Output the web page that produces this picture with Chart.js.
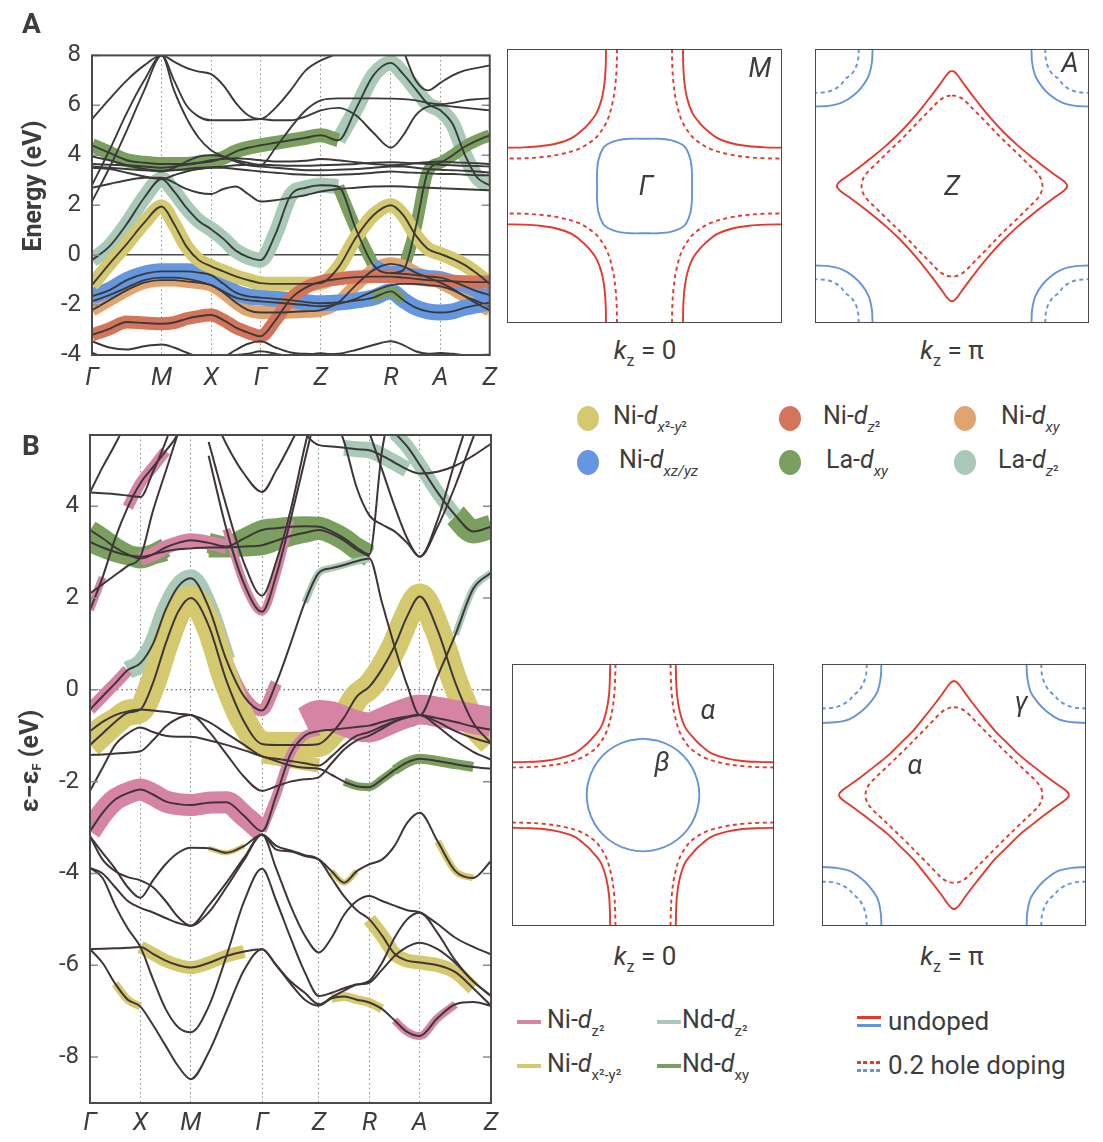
<!DOCTYPE html>
<html>
<head>
<meta charset="utf-8">
<script src="https://cdn.jsdelivr.net/npm/chart.js@4.4.1/dist/chart.umd.min.js"></script>
<style>
  body { margin: 0; background: #fff; overflow: hidden; }
  #wrap { position: relative; width: 1103px; height: 1142px; }
  canvas { position: absolute; }
  .t { position: absolute; font-family: Roboto, "Open Sans", sans-serif; color: #3d3d3d; white-space: nowrap; line-height: 1; }
  .c { transform: translate(-50%, -50%); }
  .lg { font-size: 25px; line-height: 30px; height: 30px; }
  .lg sub { font-size: 15px; vertical-align: -0.55em; line-height: 0; }
  .kz { font-size: 26px; }
  .kz sub { font-size: 16px; vertical-align: -0.45em; line-height: 0; }
  .dot { position: absolute; width: 22px; height: 25px; border-radius: 50%; }
  .bar { position: absolute; height: 4px; }
</style>
</head>
<body>
<div id="wrap">
  <canvas id="cA" width="506" height="372" style="left:0;top:30px"></canvas>
  <canvas id="cB" width="505" height="737" style="left:0;top:405px"></canvas>
  <canvas id="fA0" width="275" height="274" style="left:507px;top:49px"></canvas>
  <canvas id="fApi" width="274" height="274" style="left:815px;top:49px"></canvas>
  <canvas id="fB0" width="262" height="262" style="left:512px;top:664px"></canvas>
  <canvas id="fBpi" width="264" height="262" style="left:822px;top:664px"></canvas>

  <div class="t" style="left:22px;top:10px;font-size:28px;font-weight:bold">A</div>
  <div class="t" style="left:22px;top:432px;font-size:28px;font-weight:bold">B</div>
  <div class="t" style="left:32px;top:186px;font-size:25px;font-weight:bold;transform:translate(-50%,-50%) rotate(-90deg)">Energy (eV)</div>
  <div class="t" style="left:30px;top:761px;font-size:25px;font-weight:bold;transform:translate(-50%,-50%) rotate(-90deg)">ε−ε<sub style="font-size:13px;vertical-align:-0.3em">F</sub> (eV)</div>

  <div class="t c" style="left:760px;top:68px;font-size:27px;font-style:italic">M</div>
  <div class="t c" style="left:646px;top:186px;font-size:27px;font-style:italic">Γ</div>
  <div class="t c" style="left:1070px;top:63px;font-size:27px;font-style:italic">A</div>
  <div class="t c" style="left:952px;top:186px;font-size:27px;font-style:italic">Z</div>
  <div class="t c" style="left:708px;top:710px;font-size:27px;font-style:italic">α</div>
  <div class="t c" style="left:662px;top:762px;font-size:27px;font-style:italic">β</div>
  <div class="t c" style="left:1021px;top:702px;font-size:27px;font-style:italic">γ</div>
  <div class="t c" style="left:915px;top:765px;font-size:27px;font-style:italic">α</div>

  <div class="t c kz" style="left:645px;top:350px"><i>k</i><sub>z</sub> = 0</div>
  <div class="t c kz" style="left:952px;top:350px"><i>k</i><sub>z</sub> = π</div>
  <div class="t c kz" style="left:645px;top:956px"><i>k</i><sub>z</sub> = 0</div>
  <div class="t c kz" style="left:952px;top:956px"><i>k</i><sub>z</sub> = π</div>

  <div id="legA"></div>
  <div id="legB"></div>
</div>
<script>
Chart.defaults.font.family = 'Roboto, "Open Sans", sans-serif';
const N = null;

// ---------- panel A: k-path, ticks ----------
const kA = [0, 0.3525, 0.705, 1.0575, 1.41, 1.66, 1.91, 2.16, 2.41, 2.66, 2.91, 3.16, 3.41,
  3.715, 4.02, 4.325, 4.63, 4.985, 5.34, 5.695, 6.05, 6.3, 6.55, 6.8, 7.05, 7.3, 7.55, 7.8, 8.05];
const kTicksA = [0, 1.41, 2.41, 3.41, 4.63, 6.05, 7.05, 8.05];
const kLabelsA = ['Γ', 'M', 'X', 'Γ', 'Z', 'R', 'A', 'Z'];
const eTicksA = [-4, -2, 0, 2, 4, 6, 8];

// bands of panel A (eV), one value per kA point
const aRed = [-3.2,-2.95,-2.68,-2.72,-2.75,-2.7,-2.55,-2.45,-2.4,-2.6,-2.9,-3.1,-3.25,-2.6,-1.75,-1.3,-1.07,-0.95,-0.88,-0.86,-0.86,-0.9,-0.95,-1.0,-1.02,-1.05,-1.07,-1.08,-1.08];
const aOrange = [-2.2,-1.8,-1.4,-1.1,-1.0,-1.0,-1.05,-1.1,-1.2,-1.5,-1.9,-2.2,-2.3,-2.3,-2.28,-2.25,-2.2,-1.9,-1.2,-0.6,-0.35,-0.45,-0.7,-0.9,-1.1,-1.35,-1.65,-1.95,-2.2];
const aBlue = [-1.65,-1.4,-1.0,-0.75,-0.65,-0.65,-0.65,-0.7,-0.8,-1.15,-1.5,-1.65,-1.7,-1.75,-1.8,-1.88,-1.93,-1.9,-1.82,-1.7,-1.45,-1.8,-2.1,-2.25,-2.3,-2.25,-2.1,-2.0,-1.9];
const aBlueR = [N,N,N,N,N, N,N,N,N,N, N,N,N,N,N, N,N,N,N,N, -0.72,-0.75,-0.8,-0.85,-0.9,-1.05,-1.25,-1.45,-1.6];
const aBelowBlue = [-1.85,-1.6,-1.3,-1.0,-0.9,-0.9,-0.95,-1.05,-1.2,-1.45,-1.7,-1.8,-1.85,-1.9,-1.95,-2.0,-2.05,-1.95,-1.75,-1.45,-1.2,-1.15,-1.15,-1.2,-1.25,-1.4,-1.65,-1.85,-2.05];
const aYellow = [-1.2,-0.35,0.45,1.3,1.95,1.25,0.35,-0.2,-0.45,-0.65,-0.85,-1.0,-1.12,-1.15,-1.15,-1.15,-1.12,-0.5,0.7,1.6,2.0,1.6,0.8,0.25,0.05,-0.15,-0.4,-0.75,-1.15];
const aMixed = [-0.2,0.35,1.25,2.3,3.05,2.55,1.9,1.37,1.04,0.65,0.18,-0.08,-0.2,0.85,2.4,2.7,2.8,2.75,1.05,-0.4,-0.72,-0.6,1.1,3.35,3.7,4.0,4.35,4.6,4.8];
const aUpper = [4.4,4.1,3.8,3.7,3.65,3.65,3.65,3.7,3.75,3.9,4.15,4.3,4.4,4.5,4.6,4.7,4.8,4.6,5.85,7.2,7.7,7.25,6.65,6.05,5.8,5.25,4.0,3.1,2.8];
const aTop1 = [5.45,6.25,7.0,7.6,8.0,7.75,7.5,7.35,7.25,6.8,6.1,5.6,5.45,5.9,6.6,7.4,7.8,8.1,8.6,N,N,N,N,N,N,N,N,N,N];
const aTop2 = [N,N,N,N,N, N,N,N,N,N, N,N,N,N,N, N,N,N,N,N, N,8.2,7.0,6.6,6.9,7.2,7.4,7.5,7.6];
const aMid1 = [3.95,3.8,3.6,3.45,3.35,3.5,3.75,3.95,4.0,3.95,3.8,3.7,3.6,4.3,5.1,5.8,6.2,6.28,6.28,6.28,6.27,6.25,6.2,6.1,6.05,6.1,6.2,6.25,6.28];
const aMid2 = [2.15,3.5,5.0,6.6,8.0,7.0,6.0,5.55,5.4,5.4,5.4,5.42,5.45,5.4,5.4,5.55,5.8,5.9,5.6,4.9,4.3,4.8,5.6,5.95,6.0,5.95,5.9,5.85,5.8];
const aMid3 = [2.8,4.2,5.7,7.0,8.0,6.6,5.5,4.7,4.2,3.95,3.75,3.6,3.55,3.5,3.45,3.4,3.4,3.42,3.45,3.5,3.55,3.55,3.5,3.45,3.42,3.4,3.38,3.35,3.3];
const aFlat1 = [3.55,3.5,3.45,3.4,3.38,3.4,3.45,3.5,3.52,3.55,3.6,3.62,3.62,3.6,3.58,3.58,3.6,3.62,3.65,3.7,3.72,3.7,3.68,3.65,3.62,3.6,3.58,3.57,3.55];
const aFlat2 = [3.65,3.62,3.6,3.55,3.5,3.55,3.62,3.7,3.8,3.85,3.88,3.85,3.8,3.75,3.75,3.78,3.85,3.8,3.72,3.65,3.6,3.62,3.68,3.72,3.75,3.72,3.7,3.68,3.65];
const aFlat3 = [3.5,3.45,3.3,3.15,3.05,3.2,3.35,3.45,3.5,3.5,3.45,3.4,3.35,3.3,3.25,3.22,3.2,3.22,3.25,3.3,3.35,3.32,3.3,3.28,3.25,3.25,3.22,3.2,3.2];
const aLow2 = [2.7,2.85,3.0,3.1,3.1,2.9,2.65,2.5,2.45,2.65,2.75,2.45,2.15,2.2,2.3,2.4,2.55,2.65,2.7,2.75,2.76,2.75,2.72,2.7,2.68,2.66,2.64,2.62,2.6];
const aDeep1 = [-3.45,-3.7,-3.78,-3.65,-3.58,-3.7,-3.9,-4.1,-4.3,-4.1,-3.8,-3.55,-3.45,-3.7,-3.9,-3.95,-3.97,-3.95,-3.8,-3.6,-3.45,-3.6,-3.85,-3.95,-3.92,-3.95,-4.0,-4.02,-3.98];
const aDeep2 = [-3.9,-4.2,-4.5,-4.5,-4.5,-4.5,-4.4,-4.3,-4.2,-4.1,-4.0,-3.95,-3.85,-3.95,-4.05,-4.0,-3.93,-4.05,-4.2,-4.3,-4.3,-4.2,-4.1,-4.0,-3.95,-4.0,-4.1,-4.1,-4.0];

// ---------- panel B: k-path, ticks ----------
const kB = [0, 0.25, 0.5, 0.75, 1, 1.25, 1.5, 1.75, 2, 2.354, 2.707, 3.061, 3.414,
  3.697, 3.979, 4.262, 4.544, 4.794, 5.044, 5.294, 5.544, 5.794, 6.044, 6.294, 6.544, 6.898, 7.251, 7.605, 7.958];
const kTicksB = [0, 1, 2, 3.414, 4.544, 5.544, 6.544, 7.958];
const kLabelsB = ['Γ', 'X', 'M', 'Γ', 'Z', 'R', 'A', 'Z'];
const eTicksB = [-8, -6, -4, -2, 0, 2, 4];

const bL1 = [-3.08,-2.68,-2.39,-2.25,-2.17,-2.28,-2.43,-2.49,-2.51,-2.46,-2.45,-2.75,-3.08,-2.3,-1.4,-1.0,-0.9,-0.87,-0.84,-0.81,-0.78,-0.7,-0.63,-0.58,-0.55,-0.62,-0.7,-0.8,-0.87];
const bL2 = [-1.2,-0.95,-0.7,-0.5,-0.43,0.15,1.0,1.7,2.0,1.4,0.2,-0.7,-1.18,-1.2,-1.2,-1.2,-1.18,-0.95,-0.6,-0.15,0.07,0.45,0.95,1.6,2.03,1.3,0.15,-0.72,-1.16];
const bL3 = [-0.43,-0.14,0.14,0.43,0.58,1.0,1.74,2.25,2.43,1.8,0.65,-0.15,-0.45,0.15,1.0,1.9,2.55,2.65,2.72,2.8,2.86,1.9,0.95,0.1,-0.55,0.3,1.2,2.2,2.55];
const bL4 = [-0.9,-0.7,-0.55,-0.47,-0.43,-0.45,-0.48,-0.52,-0.55,-0.7,-0.95,-1.2,-1.45,-1.5,-1.55,-1.6,-1.65,-1.45,-1.2,-1.0,-0.92,-0.8,-0.68,-0.6,-0.55,-0.7,-0.9,-1.05,-1.16];
const bL5 = [-1.42,-1.41,-1.39,-1.37,-1.34,-1.1,-0.8,-0.62,-0.55,-0.9,-1.4,-1.9,-2.2,-2.1,-2.0,-1.95,-1.9,-1.6,-1.3,-1.1,-1.0,-0.85,-0.7,-0.6,-0.55,-0.8,-1.1,-1.35,-1.52];
const bL6 = [-2.2,-1.7,-1.2,-0.95,-0.82,-0.92,-1.0,-1.02,-1.02,-1.1,-1.2,-1.32,-1.45,-1.55,-1.65,-1.7,-1.72,-1.85,-2.0,-2.1,-2.12,-1.95,-1.75,-1.58,-1.5,-1.55,-1.62,-1.68,-1.72];
const bU1 = [4.3,4.28,4.26,4.23,4.2,4.75,5.4,6.2,7.0, N,N,N,N,N, N,N,N,N,N, N,N,N,N,N, N,N,N,N,N];
const bU2 = [4.3,4.85,5.35,5.9,6.6, N,N,N,N,N, N,N,N,N,N, N,N,N,N,N, N,N,N,N,N, N,N,N,N];
const bU3 = [2.1,2.3,2.5,2.7,2.9,3.9,4.75,5.6,6.5, N,N,N,N,N, N,N,N,N,N, N,N,N,N,N, N,N,N,N,N];
const bU4 = [1.74,2.45,3.3,3.98,4.5,4.85,5.2,5.6,6.5, N,N,N,N,N, N,N,N,N,N, N,N,N,N,N, N,N,N,N,N];
const bG1 = [3.48,3.3,3.1,2.95,2.86,2.95,3.1,3.2,3.26,3.2,3.12,3.3,3.48,3.52,3.55,3.56,3.55,3.45,3.3,3.1,2.95,5.2,6.5, N,N,N,N,N,N];
const bG2 = [3.22,3.1,3.0,2.93,2.9,2.95,3.02,3.06,3.08,3.1,3.1,3.12,3.15,3.25,3.35,3.42,3.48,3.4,3.25,3.05,2.9, N,N,N,N,N,N,N,N];
const bG3 = [N,N,N,N,N, N,N,N,N,N, N,N,N,N,N, N,N,N,N,N, N,N, 5.6,5.3,4.9,4.3,3.8,3.45,3.55];
const bP1 = [N,N,N,N,N, N,N,N,N,N, N,N,N,N,N, N, 6.8,6.1,5.4,4.4,3.8,3.6,3.45,3.2,2.9,3.55,4.45,5.5,6.5];
const bP2 = [N,N,N,N,N, N,N,N,N,N, N,N,N,N,N, N,N,N,N, 6.3,5.6,4.8,4.0,3.3,2.9,3.7,5.0,6.2, N];
const bU5 = [N,N,N,N,N, N,N,N,N, 6.2,5.35,4.7,4.31,4.78,5.36,6.0,6.7, N,N,N,N,N, N,N,N,N,N,N,N];
const bU6 = [N,N,N,N,N, N,N,N,N, 5.4,4.0,2.75,2.05,2.8,3.9,5.3,6.6, N,N,N,N,N, N,N,N,N,N,N,N];
const bU7 = [N,N,N,N,N, N,N,N,N, 5.1,3.5,2.3,1.7,2.5,3.7,5.0,6.3, N,N,N,N,N, N,N,N,N,N,N,N];
const bU8 = [N,N,N,N,N, N,N,N,N,N, N,N,N,N, 6.2,5.6,5.33,5.3,5.27,5.24,5.22,5.1,4.95,4.8,4.71,4.75,4.88,5.1,5.36];
const bD1 = [-3.19,-3.55,-3.9,-4.3,-4.53,-4.15,-3.8,-3.55,-3.44,-3.45,-3.55,-3.4,-3.15,-3.48,-3.52,-3.62,-3.7,-3.95,-4.2,-3.95,-3.8,-3.7,-3.4,-2.9,-2.68,-3.3,-3.95,-4.1,-3.73];
const bD2 = [-3.19,-3.7,-3.95,-4.08,-4.15,-4.3,-4.6,-4.95,-5.14,-4.85,-4.3,-3.7,-3.15,-3.4,-3.5,-3.6,-3.7,-4.1,-4.5,-4.8,-5.0,-5.35,-5.75,-5.9,-5.94,-6.0,-6.15,-6.5,-6.88];
const bD3 = [-3.88,-4.0,-4.3,-4.6,-4.75,-4.85,-4.97,-5.08,-5.14,-4.7,-4.2,-3.65,-3.15,-3.9,-4.7,-5.35,-5.72,-5.4,-4.9,-4.6,-4.49,-4.6,-4.7,-4.8,-4.85,-5.1,-5.4,-5.6,-5.76];
const bD4 = [-3.88,-4.1,-4.7,-5.2,-5.6,-6.3,-6.95,-7.35,-7.46,-6.9,-5.8,-4.6,-3.9,-4.6,-5.4,-6.15,-6.67,-6.6,-6.5,-6.42,-6.38,-6.1,-5.8,-5.6,-5.51,-5.65,-5.95,-6.35,-6.67];
const bD5 = [-5.65,-5.64,-5.63,-5.62,-5.6,-5.75,-5.9,-6.0,-6.05,-5.95,-5.8,-5.7,-5.65,-6.0,-6.4,-6.75,-6.88,-6.72,-6.68,-6.75,-6.81,-6.95,-7.2,-7.45,-7.54,-7.15,-6.85,-6.8,-6.88];
const bD6 = [-5.65,-5.95,-6.4,-6.75,-6.9,-7.3,-7.75,-8.2,-8.48,-7.9,-7.0,-6.1,-5.65,-6.0,-6.35,-6.6,-6.85,-6.7,-6.55,-6.42,-6.34,-5.95,-5.4,-5.0,-4.85,-5.3,-5.9,-6.35,-6.67];
const bPinkTop = [N,N,N,N,N, N,N,N,N,N, N,N,N,N,N, -0.7,-0.55,-0.58,-0.68,-0.78,-0.82,-0.72,-0.6,-0.5,-0.43,-0.48,-0.55,-0.63,-0.7];

// ---------- Fermi surfaces: one quadrant each, (kx, ky) in units of the zone half-width ----------
const fsA0RedSolid = [[0.28,1],[0.282,0.88],[0.29,0.76],[0.31,0.64],[0.35,0.53],[0.41,0.45],[0.45,0.41],[0.53,0.35],[0.64,0.31],[0.76,0.29],[0.88,0.282],[1,0.28]];
const fsA0RedDash = [[0.2,1],[0.202,0.88],[0.21,0.76],[0.23,0.62],[0.27,0.48],[0.33,0.38],[0.38,0.33],[0.48,0.27],[0.62,0.23],[0.76,0.21],[0.88,0.202],[1,0.2]];
const fsA0Blue = [[0,0.345],[0.1,0.345],[0.19,0.335],[0.27,0.305],[0.305,0.27],[0.335,0.19],[0.345,0.1],[0.345,0]];
const fsApiRedSolid = [[0,0.84],[0.015,0.835],[0.04,0.81],[0.09,0.74],[0.15,0.66],[0.22,0.57],[0.3,0.475],[0.385,0.385],[0.475,0.3],[0.57,0.22],[0.66,0.15],[0.74,0.09],[0.81,0.04],[0.835,0.015],[0.84,0]];
const fsApiRedDash = [[0,0.66],[0.03,0.657],[0.07,0.64],[0.11,0.608],[0.16,0.556],[0.24,0.475],[0.355,0.355],[0.475,0.24],[0.556,0.16],[0.608,0.11],[0.64,0.07],[0.657,0.03],[0.66,0]];
const fsApiBlueSolid = [[0.58,1],[0.585,0.9],[0.61,0.8],[0.66,0.72],[0.72,0.66],[0.8,0.61],[0.9,0.585],[1,0.58]];
const fsApiBlueDash = [[0.68,1],[0.69,0.9],[0.73,0.82],[0.78,0.78],[0.82,0.73],[0.9,0.69],[1,0.68]];
const fsB0RedSolid = [[0.25,1],[0.253,0.88],[0.26,0.76],[0.28,0.64],[0.32,0.52],[0.39,0.43],[0.43,0.39],[0.52,0.32],[0.64,0.28],[0.76,0.26],[0.88,0.253],[1,0.25]];
const fsB0RedDash = [[0.21,1],[0.213,0.88],[0.22,0.76],[0.24,0.62],[0.28,0.48],[0.34,0.38],[0.38,0.34],[0.48,0.28],[0.62,0.24],[0.76,0.22],[0.88,0.213],[1,0.21]];
const fsB0Blue = [[0,0.43],[0.11,0.415],[0.215,0.372],[0.304,0.304],[0.372,0.215],[0.415,0.11],[0.43,0]];
const fsBpiRedSolid = [[0,0.87],[0.016,0.865],[0.042,0.838],[0.093,0.765],[0.155,0.683],[0.228,0.59],[0.31,0.49],[0.4,0.4],[0.49,0.31],[0.59,0.228],[0.683,0.155],[0.765,0.093],[0.838,0.042],[0.865,0.016],[0.87,0]];
const fsBpiRedDash = [[0,0.67],[0.03,0.667],[0.07,0.65],[0.11,0.618],[0.16,0.566],[0.24,0.483],[0.36,0.36],[0.483,0.24],[0.566,0.16],[0.618,0.11],[0.65,0.07],[0.667,0.03],[0.67,0]];
const fsBpiBlueSolid = [[0.55,1],[0.555,0.9],[0.58,0.79],[0.64,0.7],[0.7,0.64],[0.79,0.58],[0.9,0.555],[1,0.55]];
const fsBpiBlueDash = [[0.66,1],[0.67,0.9],[0.71,0.81],[0.76,0.76],[0.81,0.71],[0.9,0.67],[1,0.66]];

// ---------- colours ----------
const cYellow = '#d5c970', cRed = '#d4755b', cOrange = '#e2a46f', cBlue = '#6596e0',
      cGreen = '#7a9f5e', cTeal = '#a9c9b9', cPink = '#d684a4';
const fsRed = '#e4392d', fsBlue = '#6494dc';

// fat (orbital weight) strokes: [band, colour, first index, last index, width], painter order
const fatA = [
  [aMixed, cTeal, 0, 17, 15], [aUpper, cTeal, 17, 28, 15],
  [aUpper, cGreen, 0, 17, 14], [aMixed, cGreen, 17, 19, 12], [aMixed, cGreen, 21, 28, 12],
  [aOrange, cOrange, 0, 28, 13],
  [aBlue, cBlue, 0, 28, 16], [aMixed, cBlue, 19, 21, 13], [aBlueR, cBlue, 20, 28, 13],
  [aBlue, cGreen, 19, 21, 10],
  [aYellow, cYellow, 0, 28, 14],
  [aRed, cRed, 0, 28, 13]
];
const linesA = [aRed, aOrange, aBlue, aBlueR, aBelowBlue, aYellow, aMixed, aUpper, aTop1, aTop2,
  aMid1, aMid2, aMid3, aFlat1, aFlat2, aFlat3, aLow2, aDeep1, aDeep2];

const fatB = [
  [bG1, cGreen, 0, 6, 20], [bG2, cGreen, 0, 6, 20], [bG1, cGreen, 9, 20, 20], [bG2, cGreen, 9, 20, 20],
  [bG3, cGreen, 26, 28, 24],
  [bL3, cTeal, 3, 10, 18], [bU8, cTeal, 18, 23, 16], [bG3, cTeal, 22, 26, 14],
  [bL3, cTeal, 15, 20, 7], [bL3, cTeal, 26, 28, 7],
  [bG1, cPink, 4, 10, 14], [bU4, cPink, 0, 1, 8], [bU4, cPink, 3, 6, 11], [bU7, cPink, 10, 14, 8],
  [bL3, cPink, 0, 3, 12], [bL3, cPink, 9, 13, 12],
  [bL2, cYellow, 0, 28, 26], [bL4, cYellow, 0, 3, 14], [bL4, cYellow, 12, 16, 14],
  [bL1, cPink, 0, 12, 22], [bL1, cPink, 12, 16, 9], [bPinkTop, cPink, 15, 28, 30],
  [bD5, cYellow, 4, 11, 13], [bD6, cYellow, 2, 4, 8], [bD2, cYellow, 20, 27, 14],
  [bD5, cYellow, 17, 21, 9], [bD1, cYellow, 17, 19, 6], [bD1, cYellow, 25, 27, 7], [bD1, cYellow, 9, 11, 5],
  [bD5, cPink, 22, 26, 8],
  [bL6, cGreen, 18, 22, 8], [bL6, cGreen, 22, 27, 10]
];
const linesB = [bL1, bL2, bL3, bL4, bL5, bL6, bU1, bU2, bU3, bU4, bG1, bG2, bG3, bP1, bP2,
  bU5, bU6, bU7, bU8, bD1, bD2, bD3, bD4, bD5, bD6];

// ---------- drawing helpers ----------
const framePlugin = {
  id: 'frame',
  afterDraw(chart, args, opts) {
    const { ctx, chartArea: a } = chart;
    ctx.save();
    if (opts.ticks) {
      const y = chart.scales.y;
      ctx.strokeStyle = '#8a8a8a';
      ctx.lineWidth = 1.5;
      y.ticks.forEach(t => {
        const py = y.getPixelForValue(t.value);
        ctx.beginPath();
        ctx.moveTo(a.left, py); ctx.lineTo(a.left + 8, py);
        ctx.moveTo(a.right, py); ctx.lineTo(a.right - 8, py);
        ctx.stroke();
      });
    }
    ctx.strokeStyle = opts.color || '#474747';
    ctx.lineWidth = opts.width || 2;
    ctx.strokeRect(a.left, a.top, a.right - a.left, a.bottom - a.top);
    ctx.restore();
  }
};

function bandChart(id, grid, kTicks, kLabels, eTicks, ymin, ymax, fats, lines, st) {
  const common = { pointRadius: 0, pointHoverRadius: 0, cubicInterpolationMode: 'monotone',
                   clip: 0, fill: false, spanGaps: false, borderJoinStyle: 'round' };
  const ds = [];
  fats.forEach(([band, col, a, b, w]) => ds.push(Object.assign({
    data: grid.map((k, i) => ({ x: k, y: (i >= a && i <= b) ? band[i] : null })),
    borderColor: col, borderWidth: w }, common)));
  lines.forEach(band => ds.push(Object.assign({
    data: grid.map((k, i) => ({ x: k, y: band[i] })),
    borderColor: st.lineColor, borderWidth: st.lineWidth }, common)));
  ds.reverse(); // first dataset is painted last

  return new Chart(document.getElementById(id), {
    type: 'line',
    data: { datasets: ds },
    options: {
      responsive: false, animation: false, events: [],
      layout: { padding: { top: st.padTop, right: st.padRight, left: 0, bottom: 0 } },
      plugins: { legend: { display: false }, tooltip: { enabled: false },
                 frame: { ticks: true, color: '#4a4a4a', width: 2 } },
      scales: {
        x: {
          type: 'linear', min: grid[0], max: grid[grid.length - 1],
          afterBuildTicks: s => { s.ticks = kTicks.map(v => ({ value: v })); },
          afterFit: s => { s.height = st.xh; },
          ticks: { callback: (v, i) => kLabels[i], autoSkip: false, maxRotation: 0,
                   font: { size: 25, style: 'italic' }, color: '#3d3d3d', padding: st.xpad },
          grid: { color: '#8c8c8c', lineWidth: 1, drawTicks: false },
          border: { display: false, dash: [1.5, 3] }
        },
        y: {
          min: ymin, max: ymax,
          afterBuildTicks: s => { s.ticks = eTicks.map(v => ({ value: v })); },
          afterFit: s => { s.width = st.yw; },
          ticks: { callback: v => String(v), font: { size: 24 }, color: '#3d3d3d', padding: 11 },
          grid: { color: c => (c.tick && c.tick.value === 0) ? st.zeroColor : 'rgba(0,0,0,0)',
                  lineWidth: st.zeroWidth, drawTicks: false },
          border: { display: false, dash: st.zeroDash }
        }
      }
    },
    plugins: [framePlugin]
  });
}

// whole closed loop from one quadrant running from (0,b) to (a,0); shared end points kept once
function loop(q) {
  const q4 = q.slice().reverse().map(([x, y]) => [x, -y]).slice(1);
  const q3 = q.map(([x, y]) => [-x, -y]).slice(1);
  const q2 = q.slice().reverse().map(([x, y]) => [-x, y]).slice(1);
  return q.concat(q4, q3, q2);
}
// the same open arc placed in all four corners
function corners(q) {
  return [[1, 1], [-1, 1], [-1, -1], [1, -1]].map(([sx, sy]) => q.map(([x, y]) => [sx * x, sy * y]));
}

function fsChart(id, curves) {
  const ds = curves.map(c => ({
    data: c.pts.map(([x, y]) => ({ x, y })), showLine: true,
    borderColor: c.color, borderWidth: 1.9, borderDash: c.dash ? [4, 3.5] : [],
    pointRadius: 0, pointHoverRadius: 0, tension: 0.35, clip: 0, fill: false
  }));
  return new Chart(document.getElementById(id), {
    type: 'scatter',
    data: { datasets: ds },
    options: {
      responsive: false, animation: false, events: [],
      layout: { padding: 0 },
      plugins: { legend: { display: false }, tooltip: { enabled: false }, frame: { color: '#4a4a4a', width: 2 } },
      scales: { x: { display: false, min: -1, max: 1 }, y: { display: false, min: -1, max: 1 } }
    },
    plugins: [framePlugin]
  });
}
function fsCurves(redSolid, redDash, blueSolid, blueDash, redLoop, blueLoop) {
  const out = [];
  (redLoop ? [loop(redSolid)] : corners(redSolid)).forEach(p => out.push({ pts: p, color: fsRed }));
  (redLoop ? [loop(redDash)] : corners(redDash)).forEach(p => out.push({ pts: p, color: fsRed, dash: true }));
  (blueLoop ? [loop(blueSolid)] : corners(blueSolid)).forEach(p => out.push({ pts: p, color: fsBlue }));
  if (blueDash) corners(blueDash).forEach(p => out.push({ pts: p, color: fsBlue, dash: true }));
  return out;
}

bandChart('cA', kA, kTicksA, kLabelsA, eTicksA, -4, 8, fatA, linesA,
  { lineColor: '#3a3a3a', lineWidth: 1.9, padTop: 21, padRight: 11, yw: 92, xh: 47, xpad: 9,
    zeroColor: '#4a4a4a', zeroWidth: 1.6, zeroDash: [] });
bandChart('cB', kB, kTicksB, kLabelsB, eTicksB, -9, 5.55, fatB, linesB,
  { lineColor: '#3f3539', lineWidth: 2, padTop: 30, padRight: 14, yw: 90, xh: 39, xpad: 6,
    zeroColor: '#6a6a6a', zeroWidth: 1.2, zeroDash: [1.5, 3] });

fsChart('fA0', fsCurves(fsA0RedSolid, fsA0RedDash, fsA0Blue, null, false, true));
fsChart('fApi', fsCurves(fsApiRedSolid, fsApiRedDash, fsApiBlueSolid, fsApiBlueDash, true, false));
fsChart('fB0', fsCurves(fsB0RedSolid, fsB0RedDash, fsB0Blue, null, false, true));
fsChart('fBpi', fsCurves(fsBpiRedSolid, fsBpiRedDash, fsBpiBlueSolid, fsBpiBlueDash, true, false));

// ---------- legends ----------
const legAItems = [
  [588, 418, cYellow, 613, 'Ni-<i>d</i><sub><i>x</i>²-<i>y</i>²</sub>'],
  [790, 418, cRed, 823, 'Ni-<i>d</i><sub><i>z</i>²</sub>'],
  [965, 418, cOrange, 1001, 'Ni-<i>d</i><sub><i>xy</i></sub>'],
  [588, 462, cBlue, 619, 'Ni-<i>d</i><sub><i>xz/yz</i></sub>'],
  [790, 462, cGreen, 826, 'La-<i>d</i><sub><i>xy</i></sub>'],
  [965, 462, cTeal, 998, 'La-<i>d</i><sub><i>z</i>²</sub>']
];
const legA = document.getElementById('legA');
legAItems.forEach(([cx, cy, col, tx, html]) => {
  legA.insertAdjacentHTML('beforeend',
    `<div class="dot" style="left:${cx - 11}px;top:${cy - 12.5}px;background:${col}"></div>` +
    `<div class="t lg" style="left:${tx}px;top:${cy - 17}px">${html}</div>`);
});
const legBItems = [
  [517, 1022, cPink, 547, 'Ni-<i>d</i><sub>z²</sub>'],
  [657, 1022, cTeal, 682, 'Nd-<i>d</i><sub>z²</sub>'],
  [517, 1066, cYellow, 547, 'Ni-<i>d</i><sub>x²-y²</sub>'],
  [657, 1066, cGreen, 682, 'Nd-<i>d</i><sub>xy</sub>']
];
const legB = document.getElementById('legB');
legBItems.forEach(([x, cy, col, tx, html]) => {
  legB.insertAdjacentHTML('beforeend',
    `<div class="bar" style="left:${x}px;top:${cy - 2}px;width:24px;background:${col}"></div>` +
    `<div class="t lg" style="left:${tx}px;top:${cy - 17}px">${html}</div>`);
});
legB.insertAdjacentHTML('beforeend',
  `<div class="bar" style="left:857px;top:1016px;width:24px;height:3px;background:${fsRed}"></div>` +
  `<div class="bar" style="left:857px;top:1024px;width:24px;height:3px;background:${fsBlue}"></div>` +
  `<div class="t lg" style="left:888px;top:1006px;font-size:26px">undoped</div>` +
  `<div class="bar" style="left:857px;top:1061px;width:24px;height:3px;background:repeating-linear-gradient(90deg,${fsRed} 0 4px,transparent 4px 6.5px)"></div>` +
  `<div class="bar" style="left:857px;top:1069px;width:24px;height:3px;background:repeating-linear-gradient(90deg,${fsBlue} 0 4px,transparent 4px 6.5px)"></div>` +
  `<div class="t lg" style="left:888px;top:1050px;font-size:26px">0.2 hole doping</div>`);
</script>
</body>
</html>
